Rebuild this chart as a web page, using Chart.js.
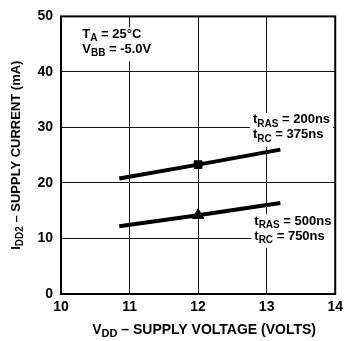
<!DOCTYPE html>
<html>
<head>
<meta charset="utf-8">
<script src="https://cdn.jsdelivr.net/npm/chart.js@4.4.1/dist/chart.umd.min.js"></script>
<style>
  html, body { margin: 0; padding: 0; background: #fff; }
  #wrap { width: 348px; height: 341px; }
</style>
</head>
<body>
<div id="wrap"><canvas id="chart" width="348" height="341"></canvas></div>
<script>
// values
const voltage = [10.85, 12, 13.2];
const current200 = [20.8, 23.3, 26.0];
const current500 = [12.2, 14.2, 16.4];
const markerVolt = [12];
const marker200 = [23.3];
const marker500 = [14.2];
const xTicks = [10, 11, 12, 13, 14];
const yTicks = [0, 10, 20, 30, 40, 50];

const FONT = '"Liberation Sans", Arial, sans-serif';

function pts(xs, ys) {
  return xs.map((x, i) => ({ x: x, y: ys[i] }));
}

// text with subscripts: parts = [[text, isSub], ...]
function drawRich(ctx, parts, x, y, size) {
  let cx = x;
  parts.forEach(([t, sub]) => {
    const s = sub ? Math.round(size * 0.78) : size;
    ctx.font = 'bold ' + s + 'px ' + FONT;
    ctx.fillText(t, cx, sub ? y + size * 0.3 : y);
    cx += ctx.measureText(t).width;
  });
  return cx - x;
}

function richWidth(ctx, parts, size) {
  let w = 0;
  parts.forEach(([t, sub]) => {
    const s = sub ? Math.round(size * 0.78) : size;
    ctx.font = 'bold ' + s + 'px ' + FONT;
    w += ctx.measureText(t).width;
  });
  return w;
}

const labelsPlugin = {
  id: 'labels',
  beforeDatasetsDraw(chart) {
    const { ctx, scales: { x, y } } = chart;
    ctx.save();
    ctx.fillStyle = '#000';
    ctx.textBaseline = 'middle';
    ctx.textAlign = 'left';

    const notes = [
      { vx: 10.31, vy: 46.4, lines: [[['T', 0], ['A', 1], [' = 25°C', 0]], [['V', 0], ['BB', 1], [' = -5.0V', 0]]] },
      { vx: 12.8, vy: 31.0, lines: [[['t', 0], ['RAS', 1], [' = 200ns', 0]], [['t', 0], ['RC', 1], [' = 375ns', 0]]] },
      { vx: 12.82, vy: 12.8, lines: [[['t', 0], ['RAS', 1], [' = 500ns', 0]], [['t', 0], ['RC', 1], [' = 750ns', 0]]] }
    ];
    const size = 13, lh = 15;
    notes.forEach(n => {
      const px = x.getPixelForValue(n.vx);
      const py = y.getPixelForValue(n.vy);
      let w = 0;
      n.lines.forEach(l => { w = Math.max(w, richWidth(ctx, l, size)); });
      ctx.fillStyle = '#fff';
      ctx.fillRect(px - 3, py - 9, w + 6, lh * 2 + 4);
      ctx.fillStyle = '#000';
      n.lines.forEach((l, i) => drawRich(ctx, l, px, py + i * lh - 2, size));
    });

    // frame
    const a = chart.chartArea;
    ctx.strokeStyle = '#000';
    ctx.lineWidth = 2;
    ctx.strokeRect(a.left, a.top, a.right - a.left, a.bottom - a.top);

    // axis titles
    const xt = [['V', 0], ['DD', 1], [' \u2013 SUPPLY VOLTAGE (VOLTS)', 0]];
    const xw = richWidth(ctx, xt, 14);
    drawRich(ctx, xt, (a.left + a.right) / 2 - xw / 2 + 6, 330, 14);

    const yt = [['I', 0], ['DD2', 1], [' \u2013 SUPPLY CURRENT (mA)', 0]];
    const yw = richWidth(ctx, yt, 13);
    ctx.translate(16, (a.top + a.bottom) / 2);
    ctx.rotate(-Math.PI / 2);
    drawRich(ctx, yt, -yw / 2, 0, 13);
    ctx.restore();
  }
};

new Chart(document.getElementById('chart'), {
  type: 'scatter',
  data: {
    datasets: [
      { data: pts(voltage, current200), showLine: true, borderColor: '#000', borderWidth: 4, pointRadius: 0 },
      { data: pts(voltage, current500), showLine: true, borderColor: '#000', borderWidth: 4, pointRadius: 0 },
      { data: pts(markerVolt, marker200), pointStyle: 'rect', pointRadius: 5.5, backgroundColor: '#000', borderColor: '#000' },
      { data: pts(markerVolt, marker500), pointStyle: 'triangle', pointRadius: 6.5, backgroundColor: '#000', borderColor: '#000' }
    ]
  },
  options: {
    responsive: false,
    animation: false,
    layout: { padding: { top: 13, right: 5, left: 0, bottom: 0 } },
    plugins: { legend: { display: false }, tooltip: { enabled: false } },
    scales: {
      x: {
        type: 'linear',
        min: 10,
        max: 14,
        afterBuildTicks: s => { s.ticks = xTicks.map(v => ({ value: v })); },
        afterFit: s => { s.height = 47; },
        grid: { color: '#111', lineWidth: 1, drawTicks: false },
        border: { display: false },
        ticks: { color: '#000', padding: 5, font: { family: FONT, size: 14, weight: 'bold' } }
      },
      y: {
        min: 0,
        max: 50,
        afterBuildTicks: s => { s.ticks = yTicks.map(v => ({ value: v })); },
        afterFit: s => { s.width = 61; },
        grid: { color: '#111', lineWidth: 1, drawTicks: false },
        border: { display: false },
        ticks: { color: '#000', padding: 8, font: { family: FONT, size: 14, weight: 'bold' } }
      }
    }
  },
  plugins: [labelsPlugin]
});
</script>
</body>
</html>
